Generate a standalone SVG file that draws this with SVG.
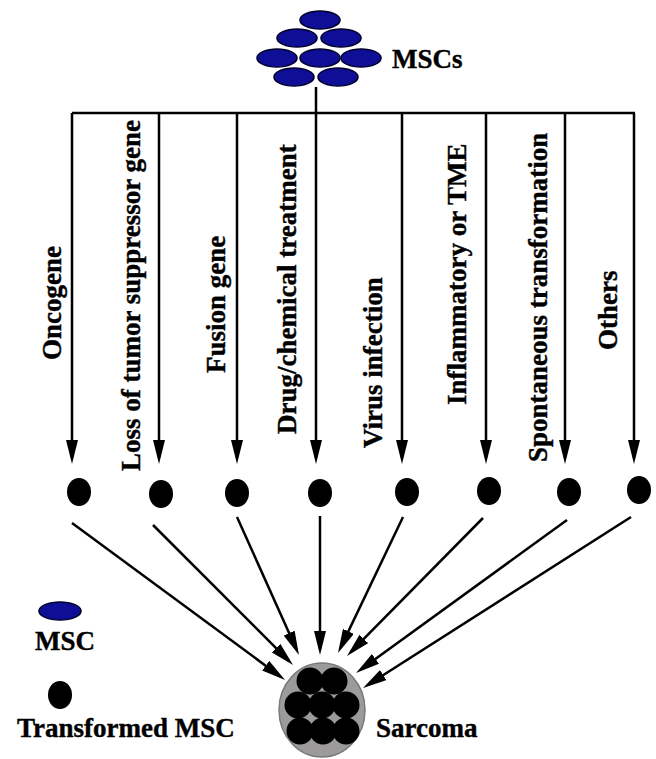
<svg xmlns="http://www.w3.org/2000/svg" width="656" height="759" viewBox="0 0 656 759">
<style>
.lbl{font-family:"Liberation Serif","Times New Roman",serif;font-weight:bold;font-size:27px;fill:#000;stroke:#000;stroke-width:0.4}
.ln{stroke:#000;stroke-width:2.5;fill:none}
.msc{fill:#0e0e96;stroke:#00002a;stroke-width:1.6}
.tm{fill:#000}
</style>
<defs>
<marker id="ah" markerUnits="userSpaceOnUse" markerWidth="24" markerHeight="12" refX="18" refY="6" orient="auto">
<path d="M0,0 L24,6 L0,12 Z" fill="#000"/>
</marker>
</defs>
<rect width="656" height="759" fill="#fff"/>
<g id="mscs">
<ellipse class="msc" cx="320" cy="20" rx="20" ry="9"/>
<ellipse class="msc" cx="297" cy="38" rx="20" ry="9"/>
<ellipse class="msc" cx="341" cy="38" rx="20" ry="9"/>
<ellipse class="msc" cx="277" cy="58" rx="20" ry="9"/>
<ellipse class="msc" cx="320" cy="58" rx="20" ry="9"/>
<ellipse class="msc" cx="361" cy="58" rx="20" ry="9"/>
<ellipse class="msc" cx="294" cy="77" rx="20" ry="9"/>
<ellipse class="msc" cx="338" cy="77" rx="20" ry="9"/>
<text class="lbl" x="392" y="68" font-size="26">MSCs</text>
</g>
<g id="connectors">
<path class="ln" d="M316,87 V113 M72,113 H635"/>
<line class="ln" x1="72" y1="113" x2="72" y2="458" marker-end="url(#ah)"/>
<line class="ln" x1="159" y1="113" x2="159" y2="458" marker-end="url(#ah)"/>
<line class="ln" x1="237" y1="113" x2="237" y2="458" marker-end="url(#ah)"/>
<line class="ln" x1="316" y1="113" x2="316" y2="458" marker-end="url(#ah)"/>
<line class="ln" x1="402" y1="113" x2="402" y2="458" marker-end="url(#ah)"/>
<line class="ln" x1="486" y1="113" x2="486" y2="458" marker-end="url(#ah)"/>
<line class="ln" x1="565" y1="113" x2="565" y2="458" marker-end="url(#ah)"/>
<line class="ln" x1="634" y1="113" x2="634" y2="458" marker-end="url(#ah)"/>
<line class="ln" x1="72" y1="523" x2="280.2" y2="676.4" marker-end="url(#ah)"/>
<line class="ln" x1="153" y1="525" x2="288.8" y2="660.8" marker-end="url(#ah)"/>
<line class="ln" x1="237" y1="517" x2="296.5" y2="649.5" marker-end="url(#ah)"/>
<line class="ln" x1="320" y1="516" x2="320" y2="649" marker-end="url(#ah)"/>
<line class="ln" x1="403" y1="517" x2="340.6" y2="647.6" marker-end="url(#ah)"/>
<line class="ln" x1="483" y1="518" x2="351.2" y2="651.7" marker-end="url(#ah)"/>
<line class="ln" x1="567" y1="520" x2="360.9" y2="669.5" marker-end="url(#ah)"/>
<line class="ln" x1="631" y1="517" x2="368.1" y2="684.8" marker-end="url(#ah)"/>
</g>
<g id="labels">
<text class="lbl" transform="translate(61,360) rotate(-90)">Oncogene</text>
<text class="lbl" transform="translate(140,471) rotate(-90)">Loss of tumor suppressor gene</text>
<text class="lbl" transform="translate(225,373) rotate(-90)">Fusion gene</text>
<text class="lbl" transform="translate(296,434) rotate(-90)">Drug/chemical treatment</text>
<text class="lbl" transform="translate(382,448) rotate(-90)">Virus infection</text>
<text class="lbl" transform="translate(466,405) rotate(-90)">Inflammatory or TME</text>
<text class="lbl" transform="translate(547,462) rotate(-90)">Spontaneous transformation</text>
<text class="lbl" transform="translate(617,350) rotate(-90)">Others</text>
</g>
<g id="transformed">
<ellipse class="tm" cx="79" cy="492" rx="12" ry="14"/>
<ellipse class="tm" cx="161" cy="494" rx="12" ry="14"/>
<ellipse class="tm" cx="237" cy="493" rx="12" ry="14"/>
<ellipse class="tm" cx="320" cy="493" rx="12" ry="14"/>
<ellipse class="tm" cx="407" cy="492" rx="12" ry="14"/>
<ellipse class="tm" cx="489" cy="491" rx="12" ry="14"/>
<ellipse class="tm" cx="569" cy="492" rx="12" ry="14"/>
<ellipse class="tm" cx="639" cy="490" rx="12" ry="14"/>
</g>
<g id="sarcoma">
<ellipse cx="322" cy="710" rx="43" ry="47" fill="#9c9a9a" stroke="#7a7878" stroke-width="1.5"/>
<circle class="tm" cx="310" cy="681" r="13.5"/>
<circle class="tm" cx="334" cy="681" r="13.5"/>
<circle class="tm" cx="298" cy="705" r="13.5"/>
<circle class="tm" cx="322" cy="705" r="13.5"/>
<circle class="tm" cx="346" cy="705" r="13.5"/>
<circle class="tm" cx="300" cy="731" r="13.5"/>
<circle class="tm" cx="323" cy="731" r="13.5"/>
<circle class="tm" cx="346" cy="731" r="13.5"/>
<text class="lbl" x="376" y="737" font-size="25">Sarcoma</text>
</g>
<g id="legend-msc">
<ellipse class="msc" cx="60" cy="611" rx="21" ry="9"/>
<text class="lbl" x="35" y="650">MSC</text>
</g>
<g id="legend-transformed">
<ellipse class="tm" cx="60" cy="695" rx="12" ry="14"/>
<text class="lbl" x="17" y="737">Transformed MSC</text>
</g>
</svg>
